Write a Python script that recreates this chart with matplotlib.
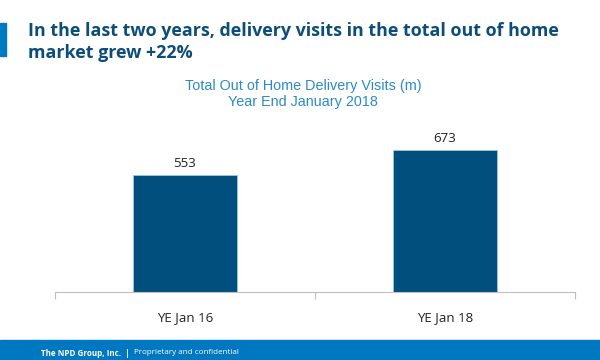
import matplotlib.pyplot as plt
from matplotlib.patches import Rectangle

# dados do grafico
periodos = ['YE Jan 16', 'YE Jan 18']
visitas = [553, 673]

titulo = 'In the last two years, delivery visits in the total out of home\nmarket grew +22%'
subtitulo = 'Total Out of Home Delivery Visits (m)\nYear End January 2018'

fig = plt.figure(figsize=(6, 3.6), dpi=100)

# barra azul do lado esquerdo do titulo e faixa do rodape
fig.patches.append(Rectangle((0, 1 - 56 / 360), 6 / 600, 33 / 360,
                             transform=fig.transFigure, color='#0078C1'))
fig.patches.append(Rectangle((0, 0), 1, 20 / 360,
                             transform=fig.transFigure, color='#0078C1'))

fig.text(28 / 600, 1 - 42 / 360, titulo, fontsize=12.9, fontweight='bold',
         family='Open Sans', color='#0D4E78', va='center', ha='left', linespacing=1.3)
fig.text(303 / 600, 1 - 94 / 360, subtitulo, fontsize=10.4, family='Liberation Sans',
         color='#2D8AC7', va='center', ha='center', linespacing=1.2)

# rodape
t = fig.text(41 / 600, 1 - 353 / 360, 'The NPD Group, Inc.  |  ', fontsize=5.8,
             family='Open Sans', fontweight='bold', color='white', va='center', ha='left')
fig.canvas.draw()
bb = t.get_window_extent()
fig.text(bb.x1 / 600, 1 - 353 / 360, 'Proprietary and confidential', fontsize=5.8,
         family='Open Sans', color='white', va='center', ha='left')

ax = fig.add_axes([55 / 600, 1 - 292 / 360, 520 / 600, 172 / 360])
x = range(len(periodos))
ax.bar(x, visitas, width=0.4, color='#004F7C', edgecolor='#9CC8E0', linewidth=0.6)
for i, valor in enumerate(visitas):
    ax.text(i, valor + 25, str(valor), ha='center', va='bottom',
            fontsize=9.5, family='Open Sans', color='#222222')

ax.set_xlim(-0.5, 1.5)
ax.set_ylim(0, 815)
ax.set_yticks([])
ax.set_xticks(list(x))
ax.set_xticklabels(periodos, fontsize=9.5, family='Open Sans', color='#222222')
ax.tick_params(axis='x', which='major', length=0, pad=14)
ax.set_xticks([-0.5, 0.5, 1.5], minor=True)
ax.tick_params(axis='x', which='minor', length=5, color='#BFBFBF', width=0.8)
for lado in ['top', 'right', 'left']:
    ax.spines[lado].set_visible(False)
ax.spines['bottom'].set_color('#BFBFBF')
ax.spines['bottom'].set_linewidth(0.8)

plt.savefig('out.png', dpi=100)
